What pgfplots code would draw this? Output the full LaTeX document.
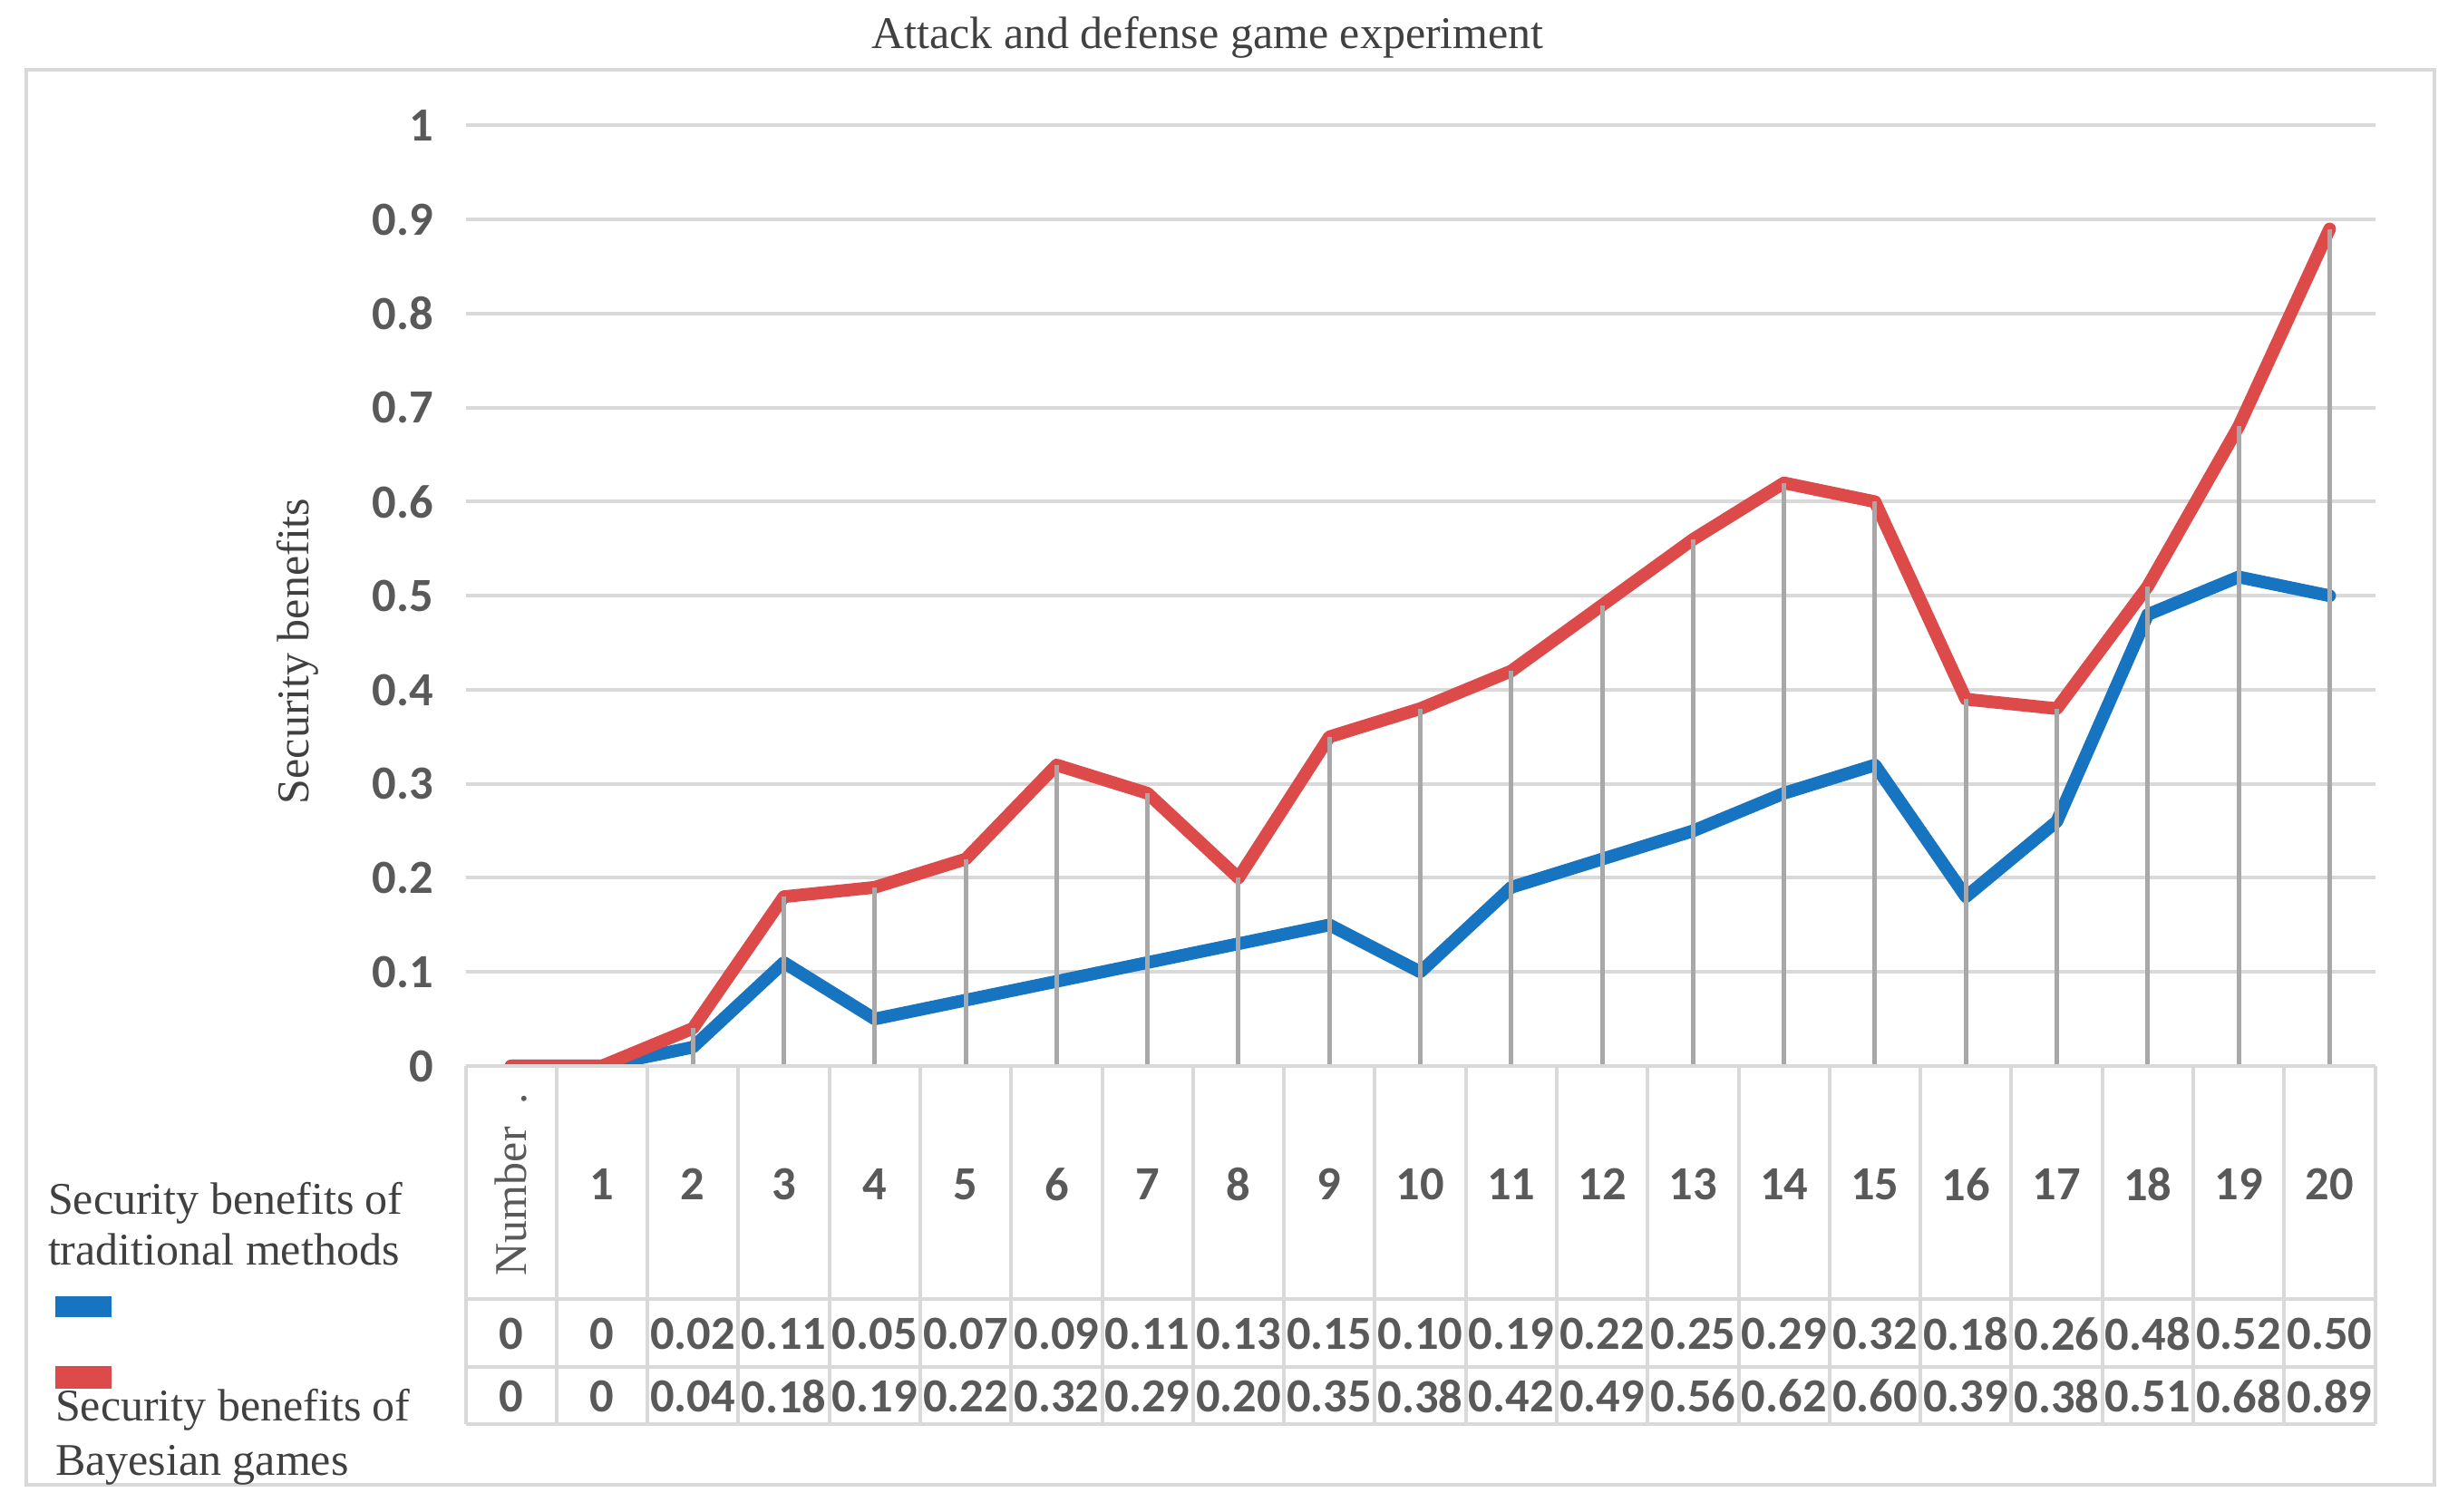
\documentclass[border=0pt]{standalone}
\usepackage{fontspec}
\setmainfont{Liberation Serif}
\newfontfamily\carlito{Carlito}
\usepackage{pgfplots}
\usepackage{pgfplotstable}
\pgfplotsset{compat=1.18}
\definecolor{tblue}{RGB}{22,116,192}
\definecolor{tred}{RGB}{221,74,74}
\definecolor{gridc}{RGB}{217,217,217}
\definecolor{dropc}{RGB}{168,168,168}
\definecolor{txt}{RGB}{89,89,89}
\definecolor{stxt}{RGB}{64,64,64}

\pgfplotstableread{
x trad bayes
0 0 0
1 0 0
2 0.02 0.04
3 0.11 0.18
4 0.05 0.19
5 0.07 0.22
6 0.09 0.32
7 0.11 0.29
8 0.13 0.20
9 0.15 0.35
10 0.10 0.38
11 0.19 0.42
12 0.22 0.49
13 0.25 0.56
14 0.29 0.62
15 0.32 0.60
16 0.18 0.39
17 0.26 0.38
18 0.48 0.51
19 0.52 0.68
20 0.50 0.89
}\data

\tikzset{cfont/.style={font=\carlito\bfseries\fontsize{10.5}{12}\selectfont, text=txt}}
\pgfplotsset{
  common/.style={
    at={(102.7pt,98.4pt)}, anchor=south west,
    width=421.2pt, height=207.5pt, scale only axis,
    xmin=-0.5, xmax=20.5, ymin=0, ymax=1,
    axis line style={draw=none},
    major tick length=0pt,
  },
}

\begin{document}
\begin{tikzpicture}[x=1pt,y=1pt]
\useasboundingbox (0,0) rectangle (542.2,333.6);
\draw[gridc, line width=0.8pt] (5.8,6) rectangle (537,318.2);
\node[font=\fontsize{10}{12}\selectfont, text=stxt] at (266.4,325.4) {Attack and defense game experiment};
% plot area (clipped like the original)
\begin{axis}[
  common,
  clip=true,
  ymajorgrids, grid style={gridc, line width=0.8pt},
  ytick={0,0.1,0.2,0.3,0.4,0.5,0.6,0.7,0.8,0.9,1},
  yticklabels={0,0.1,0.2,0.3,0.4,0.5,0.6,0.7,0.8,0.9,1},
  yticklabel style={cfont, inner sep=0pt, anchor=east, xshift=-6.9pt},
  xtick=\empty,
  ylabel={Security benefits},
  every axis y label/.style={at={(axis description cs:-0.0878,0.441)}, rotate=90, anchor=center, font=\fontsize{10}{12}\selectfont, text=stxt},
]
\addplot[tblue, line width=2.8pt, line join=round, line cap=round] table[x=x, y=trad]{\data};
\addplot[tred, line width=2.8pt, line join=round, line cap=round] table[x=x, y=bayes]{\data};
\addplot[ycomb, dropc, line width=1pt] table[x=x, y=bayes]{\data};
\end{axis}
% data table below the plot
\begin{axis}[
  common,
  clip=false,
  ytick=\empty,
  xtick={0,1,2,3,4,5,6,7,8,9,10,11,12,13,14,15,16,17,18,19,20},
  xticklabels={{\rotatebox{90}{\rmfamily\mdseries\fontsize{10}{12}\selectfont Number\ \ .}},1,2,3,4,5,6,7,8,9,10,11,12,13,14,15,16,17,18,19,20},
  xticklabel style={cfont, inner sep=0pt, anchor=center, yshift=-26.1pt},
]
\draw[gridc, line width=0.8pt] (axis cs:-0.5,0) -- (axis cs:20.5,0);
\draw[gridc, line width=0.8pt] (axis cs:-0.5,-0.248) -- (axis cs:20.5,-0.248);
\draw[gridc, line width=0.8pt] (axis cs:-0.5,-0.320) -- (axis cs:20.5,-0.320);
\draw[gridc, line width=0.8pt] (axis cs:-0.5,-0.381) -- (axis cs:20.5,-0.381);
\pgfplotsinvokeforeach{-0.5,0.5,1.5,2.5,3.5,4.5,5.5,6.5,7.5,8.5,9.5,10.5,11.5,12.5,13.5,14.5,15.5,16.5,17.5,18.5,19.5,20.5}{
  \draw[gridc, line width=0.8pt] (axis cs:#1,0) -- (axis cs:#1,-0.381);
}
\addplot[draw=none, nodes near coords, point meta=explicit symbolic,
  every node near coord/.append style={anchor=center, inner sep=0pt, cfont}]
  table[x=x, y expr=-0.285, meta=trad]{\data};
\addplot[draw=none, nodes near coords, point meta=explicit symbolic,
  every node near coord/.append style={anchor=center, inner sep=0pt, cfont}]
  table[x=x, y expr=-0.351, meta=bayes]{\data};
\end{axis}
% legend keys of the data table
\begin{scope}[every node/.style={font=\fontsize{10}{12}\selectfont, text=stxt, inner sep=0pt, anchor=base west}]
\node at (10.4,65.7) {Security benefits of};
\node at (10.4,54.5) {traditional methods};
\node at (12,20.1) {Security benefits of};
\node at (12,8.1) {Bayesian games};
\end{scope}
\fill[tblue] (12.2,43.0) rectangle (24.6,47.6);
\fill[tred] (12.2,27.2) rectangle (24.6,32.2);
\end{tikzpicture}
\end{document}
